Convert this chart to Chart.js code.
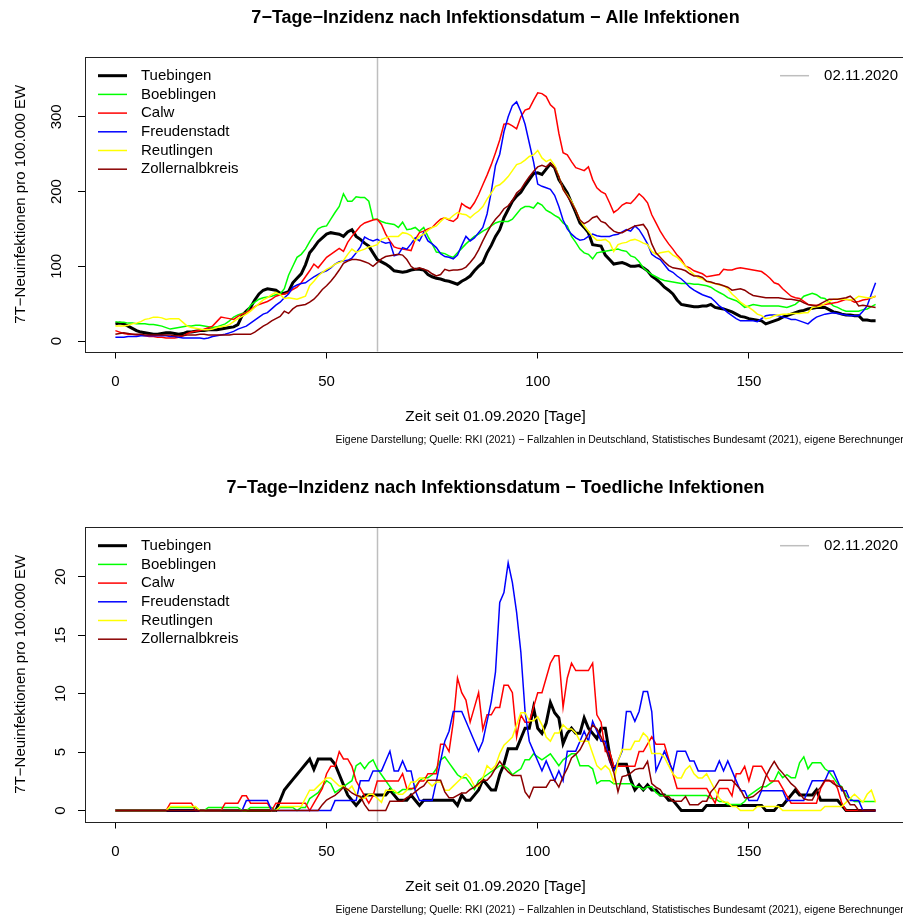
<!DOCTYPE html>
<html lang="de">
<head>
<meta charset="utf-8">
<title>7-Tage-Inzidenz nach Infektionsdatum</title>
<script src="https://cdn.jsdelivr.net/npm/chart.js@4.4.1/dist/chart.umd.min.js"></script>
<style>
  html, body { margin: 0; padding: 0; background: #fff; overflow: hidden; }
  #page { position: relative; width: 903px; height: 915px; overflow: hidden; background: #fff; }
  #page canvas { position: absolute; left: 0; }
  #chartAll { top: 0; }
  #chartDead { top: 470px; }
</style>
</head>
<body>
<div id="page">
  <canvas id="chartAll" width="912" height="460"></canvas>
  <canvas id="chartDead" width="912" height="460"></canvas>
</div>
<script>
// days since 01.09.2020 (x categories)
const days = Array.from({ length: 181 }, (_, i) => i);
const districts = ['Tuebingen', 'Boeblingen', 'Calw', 'Freudenstadt', 'Reutlingen', 'Zollernalbkreis'];

const xTicks = [0, 50, 100, 150];
const yTicksAll = [0, 100, 200, 300];
const yTicksDead = [0, 5, 10, 15, 20];

const markerDay = 62;
const markerLabel = '02.11.2020';

// 7-day incidence, all infections
const allTuebingen = [
  23,24,23,20,17,14,12,11,10,9,
  9,10,11,11,10,9,10,12,12,13,
  14,14,15,15,15,16,17,18,19,22,
  34,40,45,55,63,68,70,69,68,64,
  64,66,78,84,90,102,118,125,133,138,
  143,145,144,143,140,146,149,140,136,131,
  127,118,109,106,103,99,94,93,92,93,
  95,96,96,95,89,86,84,83,81,80,
  78,76,80,83,87,94,100,105,118,128,
  140,149,165,176,187,194,199,208,216,224,
  225,223,230,237,232,216,207,198,185,172,
  158,152,145,129,128,127,115,109,103,104,
  105,103,100,100,101,98,94,87,83,78,
  72,68,63,55,49,48,47,46,46,47,
  47,49,45,44,43,41,39,36,33,32,
  30,29,28,27,23,25,27,29,32,34,
  36,38,40,41,43,44,45,45,45,42,
  39,38,36,35,35,34,34,28,28,27,
  27
];
const allBoeblingen = [
  26,25,25,24,24,23,23,23,22,22,
  21,20,18,16,17,18,19,20,20,21,
  21,20,19,18,19,21,23,27,32,35,
  37,38,48,52,56,58,59,60,62,63,
  70,88,100,112,116,123,133,142,150,153,
  154,163,172,180,197,187,187,193,192,192,
  187,163,163,160,158,157,156,152,159,149,
  150,152,147,152,140,130,119,118,117,114,
  112,118,124,130,135,140,143,147,150,154,
  158,160,160,160,163,170,177,180,180,178,
  185,182,175,172,168,165,158,154,140,132,
  123,118,116,110,118,119,120,121,122,123,
  121,120,114,112,106,98,93,89,86,83,
  81,80,79,78,77,77,77,76,76,75,
  74,72,68,65,62,58,56,54,50,45,
  47,49,48,47,47,47,47,47,46,45,
  47,49,54,60,62,64,62,58,57,52,
  47,45,42,40,40,40,40,42,43,46,
  49
];
const allCalw = [
  14,12,10,9,9,8,8,7,6,6,
  5,5,4,4,4,5,7,10,12,13,
  14,16,18,20,26,32,31,30,29,33,
  36,38,42,46,49,51,53,56,60,62,
  63,65,69,72,78,86,94,103,98,105,
  112,116,120,124,120,132,140,147,154,158,
  160,162,163,156,143,134,126,124,123,122,
  121,136,145,147,150,152,158,163,165,162,
  160,165,184,180,177,185,196,209,222,236,
  252,269,290,291,288,284,300,309,311,322,
  332,331,327,316,311,278,252,249,240,232,
  230,228,233,216,205,200,197,185,172,176,
  182,185,184,190,197,192,185,169,158,147,
  138,130,123,115,109,100,98,94,92,90,
  86,87,88,89,96,95,95,97,98,97,
  96,95,94,93,89,84,78,76,70,65,
  60,58,57,53,49,48,48,48,49,50,
  51,52,54,56,55,52,53,55,56,58,
  60
];
const allFreudenstadt = [
  5,5,5,6,6,6,7,7,7,7,
  7,7,7,6,6,5,4,4,4,4,
  4,3,4,6,7,8,9,11,13,16,
  18,20,24,28,32,36,38,43,48,52,
  58,63,72,75,77,78,82,86,89,92,
  94,98,103,106,107,108,111,118,126,139,
  136,134,136,133,131,132,114,116,125,123,
  130,138,134,145,134,130,125,117,113,112,
  110,115,128,140,134,138,145,152,170,200,
  235,250,280,300,315,320,307,290,265,240,
  210,207,205,203,195,180,162,150,143,138,
  135,136,140,143,141,140,140,140,142,143,
  146,149,147,154,149,140,130,116,112,109,
  102,95,92,87,83,78,72,68,65,62,
  60,58,53,47,43,38,34,30,27,27,
  27,27,26,30,34,35,35,34,32,31,
  29,29,27,25,23,28,32,34,36,37,
  38,37,36,35,34,34,34,40,47,63,
  78
];
const allReutlingen = [
  20,20,20,21,23,24,26,29,30,32,
  32,31,29,30,30,30,25,20,18,17,
  16,15,15,16,18,19,20,22,26,30,
  33,36,40,45,50,55,58,62,65,62,
  57,58,57,56,58,60,74,80,87,92,
  96,99,103,105,108,116,123,119,121,123,
  126,127,129,136,138,140,140,140,145,144,
  141,134,140,143,148,152,154,160,165,163,
  168,172,170,169,165,170,174,180,190,198,
  207,209,214,220,228,236,238,242,247,249,
  255,245,240,243,235,220,203,195,187,175,
  162,154,147,140,135,135,136,132,120,129,
  131,132,135,136,134,131,129,120,116,118,
  119,120,115,112,106,100,94,89,85,83,
  80,78,77,75,74,70,63,58,52,48,
  45,41,36,34,30,31,34,35,36,36,
  37,37,37,38,38,45,46,47,50,53,
  56,56,56,56,55,56,60,59,58,58,
  60
];
const allZollernalb = [
  9,10,11,10,9,9,9,8,8,8,
  8,8,8,8,7,7,7,8,8,8,
  9,9,8,8,8,8,8,8,9,9,
  9,9,9,12,16,20,23,27,30,33,
  40,37,43,47,48,49,52,56,62,69,
  74,80,87,95,104,107,109,109,108,106,
  104,100,105,110,113,114,115,116,115,109,
  100,96,98,96,94,90,87,89,96,94,
  95,95,96,99,105,112,122,134,145,155,
  163,169,177,181,188,198,203,212,220,227,
  233,235,233,238,232,220,203,194,185,175,
  162,157,160,165,167,160,158,152,147,145,
  145,148,151,154,155,156,148,130,118,112,
  106,101,98,97,96,94,90,87,87,85,
  80,79,77,76,74,72,68,69,70,68,
  64,61,60,59,58,58,58,58,57,56,
  56,55,54,51,49,48,47,50,53,56,
  56,56,57,58,60,55,47,48,47,46,
  45
];

// 7-day incidence, fatal infections
const deadTuebingen = [
  0,0,0,0,0,0,0,0,0,0,
  0,0,0,0,0,0,0,0,0,0,
  0,0,0,0,0,0,0,0,0,0,
  0,0,0,0,0,0,0,0,0,0.88,
  1.76,2.2,2.64,3.08,3.52,3.96,4.4,3.52,4.4,4.4,
  4.4,4.4,3.96,3.08,2.2,1.32,0.88,0.44,0.88,1.32,
  1.32,1.32,1.32,1.32,1.32,1.76,1.32,0.88,0.88,0.88,
  1.32,0.88,0.44,0.88,0.88,0.88,0.88,0.88,0.88,0.88,
  0.88,0.44,1.32,0.88,0.88,1.32,1.76,2.64,2.2,1.76,
  1.76,3.08,3.96,5.28,5.28,5.28,6.16,7.04,7.04,8.8,
  7.04,6.6,7.48,9.24,8.36,7.92,5.72,6.6,7.04,6.6,
  6.6,7.92,7.04,6.6,6.16,7.04,7.04,4.84,3.52,3.96,
  3.96,3.96,2.64,1.76,2.2,1.76,2.2,1.76,1.76,1.32,
  1.32,0.88,0.88,0.44,0,0,0,0,0,0,
  0.44,0.44,0.44,0.44,0.44,0.44,0.44,0.44,0.44,0.44,
  0.44,0.44,0.44,0.44,0,0,0,0.44,0.44,0.88,
  1.32,1.76,1.32,1.32,1.32,1.32,1.76,0.88,0.88,0.88,
  0.88,0.88,0.44,0,0,0,0,0,0,0,
  0
];
const deadBoeblingen = [
  0,0,0,0,0,0,0,0,0,0,
  0,0,0,0.26,0.26,0.26,0.26,0.26,0.26,0.26,
  0,0,0.26,0.26,0.26,0.26,0.26,0.26,0.26,0.26,
  0,0,0.26,0.26,0.26,0.26,0.26,0.26,0,0.26,
  0.26,0.26,0.26,0,0.26,0.26,1.02,1.28,1.53,2.04,
  2.55,2.3,1.53,1.79,2.04,2.3,2.55,3.83,4.08,3.57,
  4.08,4.34,3.57,3.06,2.55,2.04,1.53,1.53,1.79,1.79,
  1.79,2.04,2.55,2.81,2.81,3.06,3.57,4.34,4.59,4.08,
  3.57,3.06,2.81,2.81,2.3,1.79,2.55,2.81,3.06,3.32,
  3.57,3.83,3.83,3.57,3.06,3.32,3.57,4.34,4.34,4.85,
  4.59,4.34,4.59,4.85,4.34,3.83,4.34,4.59,4.85,4.85,
  3.83,3.83,3.83,3.57,2.3,2.55,2.55,2.55,2.3,2.3,
  2.3,2.3,2.3,2.04,2.04,1.79,2.04,2.04,1.53,1.28,
  1.28,1.28,1.28,1.28,1.28,1.28,1.28,1.28,1.28,1.28,
  1.28,1.02,1.02,0.77,0.77,0.51,0.51,0.51,0.51,0.77,
  1.28,1.53,1.79,2.04,2.04,2.3,2.55,3.32,2.81,3.06,
  2.81,2.81,4.08,4.59,3.57,4.08,4.08,4.08,3.57,3.32,
  2.81,2.3,2.04,1.28,1.02,0.77,0.77,0.77,0.77,0.77,
  0.77
];
const deadCalw = [
  0,0,0,0,0,0,0,0,0,0,
  0,0,0,0.63,0.63,0.63,0.63,0.63,0.63,0,
  0,0,0,0,0,0,0.63,0.63,0.63,0.63,
  1.26,1.26,0.63,0.63,0.63,0.63,0.63,0,0.63,0.63,
  0.63,0.63,0.63,0.63,0.63,0.63,0,0.63,1.26,1.89,
  3.15,3.78,3.78,5.04,4.41,4.41,3.78,2.52,1.89,1.26,
  0.63,1.26,2.52,2.52,2.52,2.52,2.52,2.52,3.15,1.89,
  1.89,1.89,2.52,2.52,3.15,3.15,3.15,5.67,5.67,5.04,
  7.56,11.34,10.08,9.45,7.56,8.82,10.08,6.93,8.19,8.19,
  8.82,8.82,10.71,10.71,10.08,6.3,8.19,7.56,7.56,8.82,
  10.08,10.08,11.34,12.6,13.23,13.23,8.82,11.34,12.6,11.97,
  11.97,11.97,11.97,12.6,8.19,7.56,5.04,5.04,3.78,3.78,
  3.78,3.78,3.78,3.78,5.04,5.04,5.67,6.3,5.67,5.67,
  5.67,4.41,3.15,1.89,1.89,1.89,1.89,1.89,1.89,1.89,
  1.89,1.26,0.63,1.89,1.89,1.89,1.26,3.15,3.15,3.78,
  2.52,3.78,3.78,3.78,3.15,2.52,2.52,2.52,1.89,1.26,
  0.63,0.63,0.63,0.63,0.63,0.63,0.63,1.89,2.52,2.52,
  2.52,1.89,0.63,0,0,0,0,0,0,0,
  0
];
const deadFreudenstadt = [
  0,0,0,0,0,0,0,0,0,0,
  0,0,0,0,0,0,0,0,0,0,
  0,0,0,0,0,0,0,0,0,0,
  0,0.85,0.85,0.85,0.85,0.85,0.85,0,0,0,
  0,0,0,0,0,0,0,0,0,0,
  0,0,0.85,0.85,0.85,0.85,0.85,0.85,2.54,2.54,
  2.54,3.39,3.39,3.39,4.24,5.08,3.39,3.39,4.24,3.39,
  3.39,1.69,0.85,0.85,0.85,0.85,2.54,4.24,5.93,6.78,
  8.47,8.47,8.47,7.63,6.78,5.93,5.08,5.93,7.63,9.32,
  11.86,17.8,18.64,21.19,19.49,16.95,13.56,8.47,5.93,5.08,
  4.24,3.39,4.24,3.39,2.54,3.39,2.54,5.08,5.08,5.08,
  5.93,6.78,5.93,7.63,6.78,5.93,5.93,4.24,3.39,4.24,
  5.08,8.47,8.47,7.63,8.47,10.17,10.17,8.47,3.39,4.24,
  5.08,4.24,3.39,5.08,5.08,5.08,4.24,4.24,3.39,3.39,
  3.39,3.39,3.39,4.24,3.39,4.24,3.39,2.54,1.69,1.69,
  0.85,0.85,0.85,1.69,1.69,1.69,1.69,1.69,1.69,0.85,
  0.85,0.85,0.85,0.85,1.69,2.54,2.54,2.54,2.54,3.39,
  3.39,2.54,1.69,1.69,0.85,0.85,0.85,0,0,0,
  0
];
const deadReutlingen = [
  0,0,0,0,0,0,0,0,0,0,
  0,0,0,0.35,0.35,0.35,0.35,0.35,0.35,0.35,
  0,0,0,0,0,0,0,0,0,0,
  0,0,0,0,0,0,0,0,0,0.35,
  0.35,0.35,0.35,0.35,0.35,1.05,1.74,1.74,2.09,2.44,
  2.79,2.79,2.44,2.09,2.09,1.74,2.09,1.39,1.05,1.05,
  1.39,1.39,1.05,0.7,1.74,1.74,1.74,1.39,1.39,1.74,
  2.44,2.44,2.79,2.79,2.44,2.09,2.44,2.44,1.74,1.74,
  2.09,2.44,2.79,3.14,2.79,2.09,2.09,2.79,3.84,3.49,
  3.84,4.88,5.58,5.93,6.28,7.33,8.37,8.37,7.68,7.68,
  8.02,7.33,6.28,5.93,6.63,6.63,7.33,6.98,6.98,6.63,
  5.93,5.93,5.93,4.88,3.84,3.49,3.84,3.49,2.44,4.19,
  5.23,5.23,5.23,5.93,5.93,6.63,6.28,4.88,4.88,4.88,
  4.54,3.84,3.14,2.79,2.79,3.49,3.84,3.14,2.79,2.79,
  3.14,2.44,1.74,1.05,0.7,0.7,0.35,0.35,0,0,
  0,0,0.35,0.35,0.35,0.35,0.35,0.35,0,0,
  0,0,0,0,0,0,0,0,0.35,0.35,
  0.35,0.35,0.35,0.7,1.05,1.39,1.05,0.7,1.39,1.74,
  0.7
];
const deadZollernalb = [
  0,0,0,0,0,0,0,0,0,0,
  0,0,0,0,0,0,0,0,0,0,
  0,0,0,0,0,0,0,0,0,0,
  0,0,0,0,0,0,0,0,0,0,
  0,0,0,0,0,0,0,0,0,0.5,
  0.9,1.1,1.3,1.6,2.0,1.8,1.5,1.3,1.2,0.5,
  0,0,0,0,0,0.8,0.8,0.8,0.8,1.1,
  1.3,1.6,1.9,2.1,2.6,2.6,2.6,2.6,1.6,1.1,
  1.1,1.3,1.5,1.5,1.8,2.0,2.3,2.6,2.6,3.0,
  3.6,4.2,3.7,3.3,3.0,3.0,3.0,1.6,1.1,2.0,
  2.0,2.0,2.0,2.6,2.6,2.0,2.9,3.6,4.5,4.8,
  5.2,5.9,6.6,7.3,7.0,6.3,5.4,4.3,3.3,1.6,
  2.9,3.0,3.2,3.5,3.6,3.6,4.2,2.3,2.0,1.8,
  1.2,1.2,0.8,0.8,0.8,1.2,0.5,0.5,0.5,0.8,
  0.8,1.6,2.0,2.6,2.6,2.6,2.6,2.2,1.8,1.1,
  1.1,1.2,1.5,1.8,2.9,3.6,4.2,3.6,3.2,2.75,
  2.3,2.0,1.5,1.0,0.9,0.9,1.6,2.0,2.6,2.6,
  2.3,2.1,2.0,1.05,0.5,0.5,0,0,0,0,
  0
];

const lineColors = ['#000000', '#00FF00', '#FF0000', '#0000FF', '#FFFF00', '#8B0000'];
const lineWidths = [3, 1.5, 1.5, 1.5, 1.5, 1.5];
const markerColor = '#BEBEBE';

const xTitle = 'Zeit seit 01.09.2020 [Tage]';
const yTitle = '7T\u2212Neuinfektionen pro 100.000 EW';
const sourceNote = 'Eigene Darstellung; Quelle: RKI (2021) \u2212 Fallzahlen in Deutschland, Statistisches Bundesamt (2021), eigene Berechnungen';

Chart.defaults.font.family = '"Liberation Sans", Arial, sans-serif';
Chart.defaults.color = '#000';

// R-style frame: grey marker line, box around the plot, legends inside
const rFrame = {
  id: 'rFrame',
  beforeDatasetsDraw(chart) {
    const { ctx, chartArea: a, scales: { x } } = chart;
    const px = Math.round(x.getPixelForValue(markerDay)) + 0.5;
    ctx.save();
    ctx.strokeStyle = markerColor;
    ctx.lineWidth = 1.5;
    ctx.beginPath();
    ctx.moveTo(px, a.top);
    ctx.lineTo(px, a.bottom);
    ctx.stroke();
    ctx.restore();
  },
  afterDraw(chart) {
    const { ctx, chartArea: a } = chart;
    ctx.save();
    ctx.strokeStyle = '#222';
    ctx.lineWidth = 1;
    ctx.strokeRect(Math.round(a.left) + 0.5, Math.round(a.top) + 0.5,
                   Math.round(a.right - a.left), Math.round(a.bottom - a.top));

    ctx.font = '15px "Liberation Sans", Arial, sans-serif';
    ctx.textBaseline = 'middle';
    ctx.fillStyle = '#000';
    const rowH = 18.7;
    chart.data.datasets.forEach((ds, i) => {
      const y = a.top + rowH * (i + 1);
      ctx.strokeStyle = ds.borderColor;
      ctx.lineWidth = ds.borderWidth;
      ctx.beginPath();
      ctx.moveTo(a.left + 13, y);
      ctx.lineTo(a.left + 42, y);
      ctx.stroke();
      ctx.textAlign = 'left';
      ctx.fillText(ds.label, a.left + 56, y);
    });

    // marker legend, top right
    const y = a.top + rowH;
    const w = ctx.measureText(markerLabel).width;
    const tx = a.right - 8 - w;
    ctx.strokeStyle = markerColor;
    ctx.lineWidth = 1.5;
    ctx.beginPath();
    ctx.moveTo(tx - 44, y);
    ctx.lineTo(tx - 15, y);
    ctx.stroke();
    ctx.fillText(markerLabel, tx, y);
    ctx.restore();
  }
};

function buildChart(canvasId, titleText, series, yMin, yMax, yTicks) {
  const datasets = series.map((values, i) => ({
    label: districts[i],
    data: values,
    borderColor: lineColors[i],
    borderWidth: lineWidths[i],
    pointRadius: 0,
    fill: false,
    tension: 0,
    order: series.length - i   // first district drawn first, like R
  }));

  return new Chart(document.getElementById(canvasId), {
    type: 'line',
    data: { labels: days, datasets: datasets },
    plugins: [rFrame],
    options: {
      responsive: false,
      animation: false,
      events: [],
      layout: { padding: { left: 0, right: 6, top: 0, bottom: 0 } },
      plugins: {
        legend: { display: false },
        tooltip: { enabled: false },
        title: {
          display: true,
          fullSize: false,   // centre over the plot region, not the canvas
          text: titleText,
          color: '#000',
          font: { size: 18, weight: 'bold' },
          padding: { top: 7, bottom: 28.4 }
        },
        subtitle: {
          display: true,
          text: sourceNote,
          position: 'bottom',
          align: 'end',
          color: '#000',
          font: { size: 10.4 },
          padding: { top: 0, bottom: 14 }
        }
      },
      scales: {
        x: {
          type: 'linear',
          bounds: 'data',
          min: -7.2,
          max: 187.2,
          afterBuildTicks: s => { s.ticks = xTicks.map(v => ({ value: v })); },
          afterFit: s => { s.height = 82; },
          grid: { display: true, drawOnChartArea: false, drawTicks: true, tickLength: 7, color: '#000', lineWidth: 1 },
          border: { display: false },
          ticks: { color: '#000', font: { size: 15 }, padding: 14, maxRotation: 0, autoSkip: false },
          title: { display: true, text: xTitle, color: '#000', font: { size: 15.3 }, padding: { top: 0, bottom: 8 } }
        },
        y: {
          type: 'linear',
          bounds: 'data',
          min: yMin,
          max: yMax,
          afterBuildTicks: s => { s.ticks = yTicks.map(v => ({ value: v })); },
          afterFit: s => { s.width = 85; },
          grid: { display: true, drawOnChartArea: false, drawTicks: true, tickLength: 7, color: '#000', lineWidth: 1 },
          border: { display: false },
          ticks: { color: '#000', font: { size: 15 }, padding: 8.5, minRotation: 90, maxRotation: 90, crossAlign: 'center', autoSkip: false },
          title: { display: true, text: yTitle, color: '#000', font: { size: 15 }, padding: { top: 12, bottom: 0 } }
        }
      }
    }
  });
}

buildChart('chartAll',
  '7\u2212Tage\u2212Inzidenz nach Infektionsdatum \u2212 Alle Infektionen',
  [allTuebingen, allBoeblingen, allCalw, allFreudenstadt, allReutlingen, allZollernalb],
  -14, 380, yTicksAll);

buildChart('chartDead',
  '7\u2212Tage\u2212Inzidenz nach Infektionsdatum \u2212 Toedliche Infektionen',
  [deadTuebingen, deadBoeblingen, deadCalw, deadFreudenstadt, deadReutlingen, deadZollernalb],
  -0.94, 24.25, yTicksDead);
</script>
</body>
</html>
